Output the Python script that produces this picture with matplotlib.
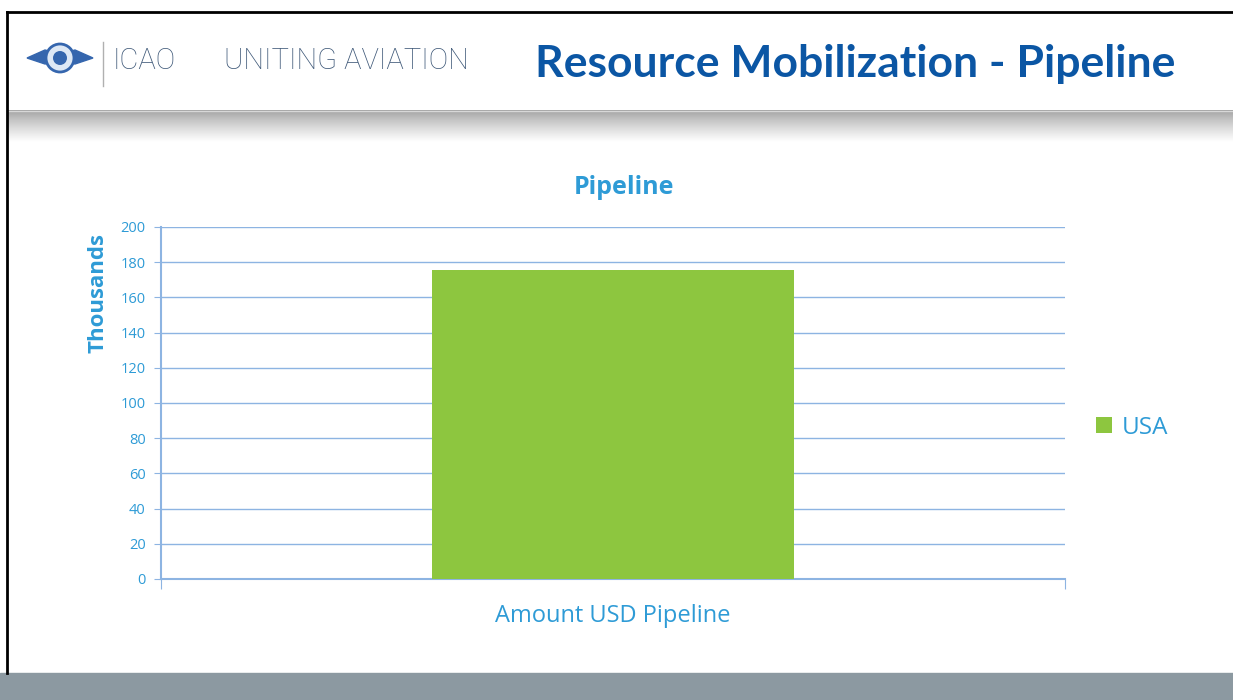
import matplotlib.pyplot as plt
import numpy as np
from matplotlib.patches import Rectangle, Circle, Polygon

# data
categories = ['Amount USD Pipeline']
series_name = 'USA'
values = [175.5]  # thousands
y_ticks = [0, 20, 40, 60, 80, 100, 120, 140, 160, 180, 200]

W, H = 1233, 700
blue_txt = '#2E9BD6'
grid_c = '#8DB4E2'
bar_c = '#8DC63F'
font = ['Open Sans', 'DejaVu Sans']

fig = plt.figure(figsize=(W / 100, H / 100), dpi=100)

# slide background in pixel coordinates
bg = fig.add_axes([0, 0, 1, 1])
bg.set_xlim(0, W)
bg.set_ylim(H, 0)
bg.axis('off')
bg.add_patch(Rectangle((0, 0), W, H, color='white', zorder=0))
grad = np.linspace(0, 1, 60).reshape(-1, 1) ** 0.8
bg.imshow(0.62 + 0.38 * grad, cmap='gray', vmin=0, vmax=1, aspect='auto',
          extent=(7, W, 142, 110), zorder=1)
bg.plot([7, W], [111, 111], color='#d8d8d8', lw=1, zorder=2)
bg.add_patch(Rectangle((0, 673), W, 27, color='#8C99A1', zorder=2))
bg.plot([7, W], [12, 12], color='black', lw=2, zorder=3)
bg.plot([7, 7], [12, 673], color='black', lw=2, zorder=3)

# logo (simplified emblem)
bg.add_patch(Polygon([[27, 58], [45, 50], [60, 54], [75, 50], [93, 58], [75, 64], [60, 62], [45, 64]],
                     closed=True, color='#3566AE', zorder=3))
bg.add_patch(Circle((60, 58), 14, facecolor='#DDE8F5', edgecolor='#3566AE', lw=2, zorder=4))
bg.add_patch(Circle((60, 58), 7, facecolor='#3566AE', edgecolor='none', zorder=5))
bg.plot([103, 103], [42, 86], color='#b0b0b0', lw=1, zorder=3)

hdr_font = ['Roboto', 'DejaVu Sans']
bg.text(113, 61, 'ICAO', fontsize=21, color='#3E5878', family=hdr_font, weight='light',
        va='center', ha='left', zorder=3)
bg.text(224, 61, 'UNITING AVIATION', fontsize=21, color='#3E5878', family=hdr_font, weight='light',
        va='center', ha='left', zorder=3)
bg.text(1175, 64, 'Resource Mobilization - Pipeline', fontsize=32, color='#0B56A4', weight='bold',
        family=['Lato', 'DejaVu Sans'], va='center', ha='right', zorder=3)

# chart texts positioned like the slide
bg.text(624, 188, 'Pipeline', fontsize=18, color=blue_txt, weight='bold', family=font,
        ha='center', va='center', zorder=3)
bg.text(98, 293, 'Thousands', fontsize=16, color=blue_txt, weight='bold', family=font,
        rotation=90, ha='center', va='center', zorder=3)
bg.text(613, 616, categories[0], fontsize=17, color=blue_txt, family=font,
        ha='center', va='center', zorder=3)

# chart
ax = fig.add_axes([161 / W, (H - 579) / H, 904 / W, 352 / H])
x = np.arange(len(categories))
ax.bar(x, values, width=0.4, color=bar_c, label=series_name, zorder=3)
ax.set_xlim(-0.5, 0.5)
ax.set_ylim(0, 200)
ax.set_yticks(y_ticks)
ax.set_yticklabels([str(v) for v in y_ticks], fontsize=10.5, color=blue_txt, family=font)
ax.set_xticks([-0.5, 0.5])
ax.set_xticklabels(['', ''])
ax.tick_params(axis='y', colors=grid_c, labelcolor=blue_txt, length=5, direction='out', pad=6)
ax.tick_params(axis='x', colors=grid_c, length=7, direction='out')
ax.grid(axis='y', color=grid_c, lw=1, zorder=0)
for s in ['top', 'right']:
    ax.spines[s].set_visible(False)
ax.spines['left'].set_color(grid_c)
ax.spines['bottom'].set_color(grid_c)
ax.spines['left'].set_linewidth(1.5)
ax.spines['bottom'].set_linewidth(1.5)

leg = ax.legend(loc='center left', bbox_to_anchor=(1.01, 0.43), frameon=False,
                prop={'family': font, 'size': 17.5},
                handlelength=0.65, handleheight=0.65, handletextpad=0.4)
for t in leg.get_texts():
    t.set_color(blue_txt)

fig.savefig('out.png', dpi=100)
